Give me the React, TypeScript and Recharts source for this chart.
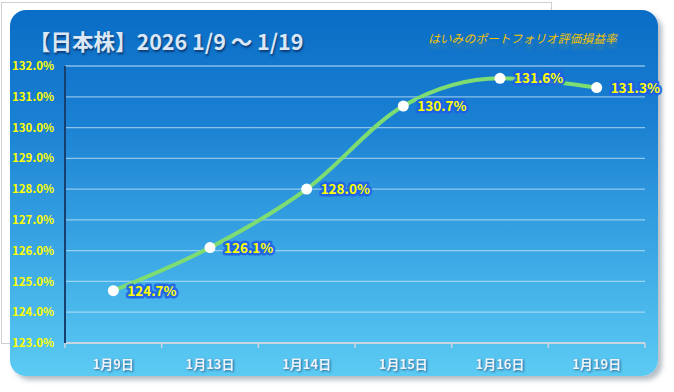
import React from 'react';
import { LineChart, Line, XAxis, YAxis, CartesianGrid } from 'recharts';

const dates = ['1月9日', '1月13日', '1月14日', '1月15日', '1月16日', '1月19日'];
const rates = [124.7, 126.1, 128.0, 130.7, 131.6, 131.3];
const yTicks = [123, 124, 125, 126, 127, 128, 129, 130, 131, 132];
const titleText = '【日本株】2026 1/9 ～ 1/19';
const subtitleText = 'はいみのポートフォリオ評価損益率';

const data = dates.map((d, i) => ({ date: d, rate: rates[i] }));

const FONT = '"Noto Sans CJK JP", "Noto Sans", sans-serif';
const NAVY = '#17406e';

const XTick = (props: any) => {
  const { x, y, payload, index } = props;
  const half = payload && typeof payload.offset === 'number' && payload.offset > 0 ? payload.offset : 48.3;
  return (
    <g>
      {index === 0 && <line x1={x - half} x2={x - half} y1={y} y2={y + 5} stroke="#c9d6df" strokeWidth={1.5} />}
      <line x1={x + half} x2={x + half} y1={y} y2={y + 5} stroke="#c9d6df" strokeWidth={1.5} />
      <text
        x={x}
        y={y + 26}
        textAnchor="middle"
        fontFamily={FONT}
        fontWeight={700}
        fontSize={13}
        fill="#eef4fa"
        style={{ filter: 'drop-shadow(1px 1px 1px rgba(20,60,110,0.7))' }}
      >
        {payload.value}
      </text>
    </g>
  );
};

const DataLabel = (props: any) => {
  const { x, y, value } = props;
  const label = `${Number(value).toFixed(1)}%`;
  return (
    <text
      x={x + 14}
      y={y + 5}
      textAnchor="start"
      fontFamily={FONT}
      fontWeight={700}
      fontSize={13.5}
      fill="#ffff00"
      stroke="#1f5fe6"
      strokeWidth={5}
      strokeOpacity={0.85}
      strokeLinejoin="round"
      paintOrder="stroke"
    >
      {label}
    </text>
  );
};

export default function App() {
  return (
    <div style={{ position: 'absolute', left: 0, top: 0, width: 674, height: 392, background: '#ffffff', overflow: 'hidden' }}>
      <div style={{ position: 'absolute', left: 1, top: 2, width: 551, height: 342, border: '1px solid #cfcfcf', boxSizing: 'border-box' }} />
      <div
        style={{
          position: 'absolute',
          left: 10,
          top: 10,
          width: 648,
          height: 366,
          borderRadius: 16,
          background: 'linear-gradient(180deg, #0a6dc6 0%, #1a80d2 30%, #3aa6e4 65%, #5ccbf3 100%)',
          boxShadow: '4px 4px 5px rgba(120,135,150,0.55)',
        }}
      />
      <div
        style={{
          position: 'absolute',
          left: 29,
          top: 25,
          fontFamily: FONT,
          fontWeight: 700,
          fontSize: 21.5,
          color: '#dbe7f4',
          whiteSpace: 'nowrap',
          textShadow: '1px 2px 2px rgba(10,40,90,0.75)',
        }}
      >
        {titleText}
      </div>
      <div
        style={{
          position: 'absolute',
          left: 428,
          top: 29,
          fontFamily: FONT,
          fontStyle: 'italic',
          fontSize: 11.8,
          color: '#f2c200',
          whiteSpace: 'nowrap',
          textShadow: '0px 6px 3px rgba(242,194,0,0.18)',
        }}
      >
        {subtitleText}
      </div>
      <div style={{ position: 'absolute', left: 0, top: 0 }}>
        <LineChart width={674} height={392} data={data} margin={{ top: 66, right: 29, bottom: 0, left: 0 }}>
          <CartesianGrid vertical={false} stroke="#d8ecfb" strokeOpacity={0.6} strokeWidth={1.3} />
          <XAxis
            xAxisId="top"
            orientation="top"
            dataKey="date"
            scale="band"
            height={0}
            tick={false}
            tickLine={false}
            axisLine={{ stroke: NAVY, strokeWidth: 2 }}
          />
          <YAxis
            yAxisId="right"
            orientation="right"
            width={0}
            domain={[123, 132]}
            tick={false}
            tickLine={false}
            axisLine={{ stroke: NAVY, strokeWidth: 2 }}
          />
          <XAxis
            dataKey="date"
            scale="band"
            height={49}
            interval={0}
            tickLine={false}
            tickSize={0}
            tickMargin={0}
            axisLine={{ stroke: '#c9d6df', strokeWidth: 2 }}
            tick={<XTick />}
          />
          <YAxis
            width={65}
            domain={[123, 132]}
            ticks={yTicks}
            interval={0}
            tickLine={false}
            tickSize={0}
            tickMargin={11}
            axisLine={{ stroke: NAVY, strokeWidth: 2 }}
            tickFormatter={(v: number) => `${v.toFixed(1)}%`}
            tick={{ fill: '#ffff00', fontFamily: FONT, fontWeight: 700, fontSize: 11.5 }}
          />
          <Line
            type="monotone"
            dataKey="rate"
            stroke="#7ddd72"
            strokeWidth={4}
            dot={{ r: 5.5, fill: '#ffffff', stroke: 'none' }}
            activeDot={false}
            isAnimationActive={false}
            label={<DataLabel />}
          />
        </LineChart>
      </div>
    </div>
  );
}
